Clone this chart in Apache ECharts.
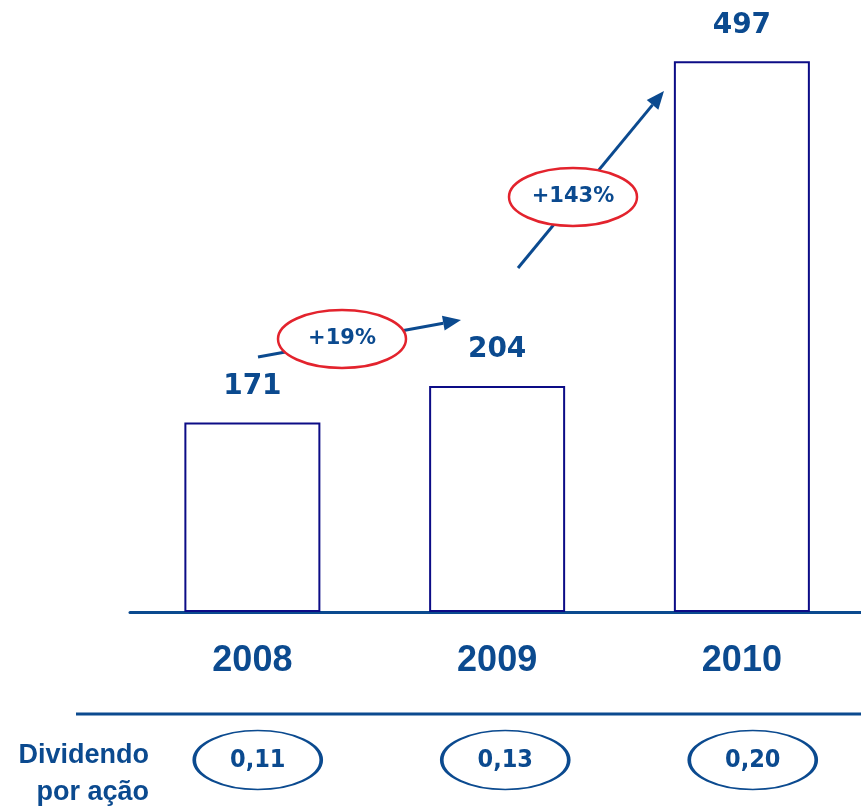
<!DOCTYPE html>
<html>
<head>
<meta charset="utf-8">
<script src="https://cdn.jsdelivr.net/npm/echarts@6/dist/echarts.min.js"></script>
<style>
  html, body { margin: 0; padding: 0; background: #ffffff; }
  #chart { width: 861px; height: 811px; }
</style>
</head>
<body>
<div id="chart"></div>
<script>
// Lucro líquido por ano (milhões) e dividendo por ação
const years = ['2008', '2009', '2010'];
const netIncome = [171, 204, 497];
const growthLabels = ['+19%', '+143%'];
const dividends = ['0,11', '0,13', '0,20'];
const dividendTitle = 'Dividendo\npor ação';

const BLUE = '#0b4a8f';
const NAVY = '#0c0c86';
const RED = '#e3232d';

const chart = echarts.init(document.getElementById('chart'), null, { renderer: 'canvas' });

// arrow helper: shaft + triangular head
function arrow(x1, y1, x2, y2) {
  const ang = Math.atan2(y2 - y1, x2 - x1);
  const len = 18, half = 7.5;
  const bx = x2 - len * Math.cos(ang), by = y2 - len * Math.sin(ang);
  const px = -Math.sin(ang) * half, py = Math.cos(ang) * half;
  return [
    { type: 'line', z: 5, shape: { x1, y1, x2: bx, y2: by },
      style: { stroke: BLUE, lineWidth: 3 } },
    { type: 'polygon', z: 5,
      shape: { points: [[x2, y2], [bx + px, by + py], [bx - px, by - py]] },
      style: { fill: BLUE } }
  ];
}

function growthBadge(cx, cy, text) {
  return [
    { type: 'ellipse', z: 6, shape: { cx, cy, rx: 64, ry: 29 },
      style: { fill: '#ffffff', stroke: RED, lineWidth: 2.5 } },
    { type: 'text', z: 7, x: cx, y: cy,
      style: { text, fill: BLUE, font: 'bold 21px "DejaVu Sans"',
               align: 'center', verticalAlign: 'middle' } }
  ];
}

const yearIdx = years.map(function (_, i) { return i; });

const option = {
  animation: false,
  backgroundColor: '#ffffff',
  grid: [
    // year slots are 245px wide; the last one runs slightly off the right edge
    { left: 130, top: 58, right: 0, height: 554 },
    { left: 134, top: 730, right: 0, height: 60 }
  ],
  xAxis: [
    {
      type: 'value', gridIndex: 0, min: -0.5, max: -0.5 + 731 / 244.75,
      splitLine: { show: false },
      axisLine: { show: true, onZero: false, lineStyle: { color: BLUE, width: 3 } },
      axisTick: { show: false },
      axisLabel: {
        customValues: yearIdx,
        formatter: function (v) { return years[Math.round(v)]; },
        margin: 31, color: BLUE, fontSize: 36, fontWeight: 'bold',
        fontFamily: '"Liberation Sans", Arial, sans-serif'
      }
    },
    {
      type: 'value', gridIndex: 1, min: -0.5, max: -0.5 + 727 / 247.5,
      show: false, splitLine: { show: false }
    }
  ],
  yAxis: [
    { type: 'value', gridIndex: 0, min: 0, max: 500, show: false, splitLine: { show: false } },
    { type: 'value', gridIndex: 1, min: 0, max: 1, show: false, splitLine: { show: false } }
  ],
  series: [
    {
      type: 'bar', xAxisIndex: 0, yAxisIndex: 0,
      data: netIncome.map(function (v, i) { return [i, v]; }),
      barWidth: 136,
      itemStyle: { color: '#ffffff', borderColor: NAVY, borderWidth: 2 },
      label: {
        show: true, position: 'top', distance: 22,
        formatter: function (p) { return p.value[1]; },
        color: BLUE, fontSize: 28, fontWeight: 'bold',
        fontFamily: '"DejaVu Sans", Verdana, sans-serif'
      }
    },
    {
      type: 'scatter', xAxisIndex: 1, yAxisIndex: 1,
      data: dividends.map(function (d, i) { return { value: [i, 0.5], name: d }; }),
      symbol: 'path://M0,50 A50,50 0 1,1 100,50 A50,50 0 1,1 0,50 Z',
      symbolSize: [127, 59],
      itemStyle: { color: '#ffffff', borderColor: BLUE, borderWidth: 2.5, opacity: 1 },
      label: {
        show: true, position: 'inside', formatter: '{b}',
        color: BLUE, fontSize: 25, fontWeight: 'bold',
        fontFamily: '"DejaVu Sans Condensed", "DejaVu Sans", sans-serif'
      }
    }
  ],
  graphic: [
    // separator above the dividend row
    { type: 'line', shape: { x1: 76, y1: 714, x2: 861, y2: 714 },
      style: { stroke: BLUE, lineWidth: 3 } },
    { type: 'text', x: 149, y: 774,
      style: { text: dividendTitle, fill: BLUE, font: 'bold 27px "Liberation Sans", Arial, sans-serif',
               align: 'right', verticalAlign: 'middle', lineHeight: 37 } }
  ]
    .concat(arrow(258, 357, 461, 320))
    .concat(growthBadge(342, 339, growthLabels[0]))
    .concat(arrow(518, 268, 664, 91))
    .concat(growthBadge(573, 197, growthLabels[1]))
};

chart.setOption(option);
</script>
</body>
</html>
